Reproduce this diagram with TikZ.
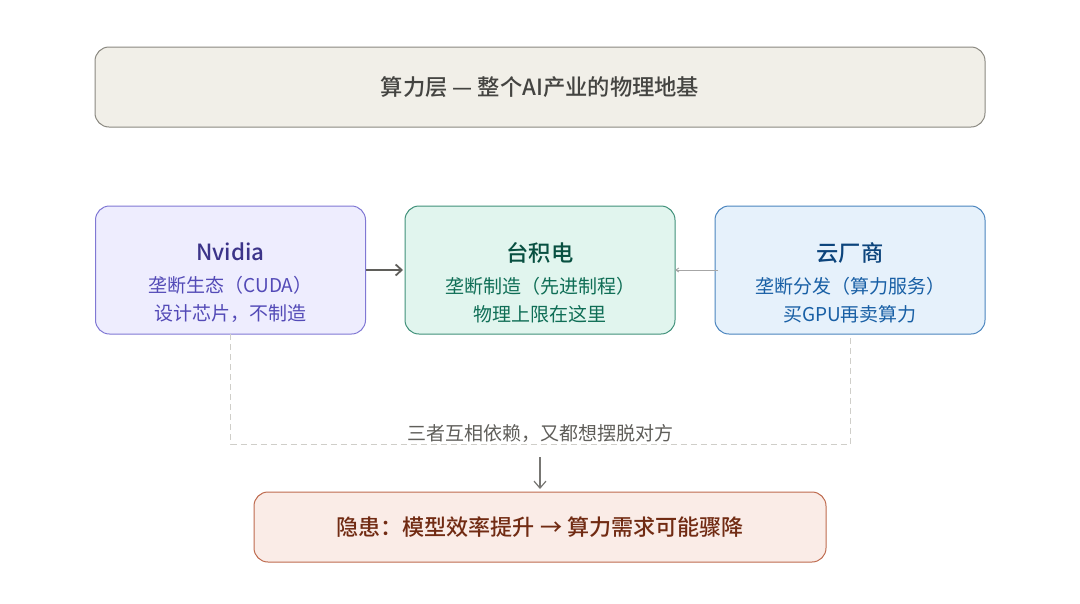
\documentclass[tikz,border=0pt]{standalone}
\usepackage{fontspec}
\usetikzlibrary{arrows.meta}
\setmainfont[BoldFont={Noto Sans CJK SC Medium}]{Noto Sans CJK SC}
\definecolor{grayfill}{HTML}{F1EFE8}
\definecolor{grayline}{HTML}{8A8880}
\definecolor{graytext}{HTML}{444441}
\definecolor{notetext}{HTML}{5F5E5A}
\definecolor{dashgray}{HTML}{CFCEC9}
\definecolor{purplefill}{HTML}{EEEDFE}
\definecolor{purpleline}{HTML}{8078D4}
\definecolor{purplehead}{HTML}{3C3489}
\definecolor{purpletext}{HTML}{534AB7}
\definecolor{tealfill}{HTML}{E1F5EE}
\definecolor{tealline}{HTML}{3F9079}
\definecolor{tealhead}{HTML}{085041}
\definecolor{tealtext}{HTML}{0F6E56}
\definecolor{bluefill}{HTML}{E6F1FB}
\definecolor{blueline}{HTML}{4A84BE}
\definecolor{bluehead}{HTML}{0C447C}
\definecolor{bluetext}{HTML}{185FA5}
\definecolor{coralfill}{HTML}{FAECE7}
\definecolor{coralline}{HTML}{BE6A4E}
\definecolor{coraltext}{HTML}{712B13}
\newcommand{\headsize}{\fontsize{22.3}{28}\selectfont\bfseries}
\newcommand{\risksize}{\fontsize{22.1}{28}\selectfont\bfseries}
\newcommand{\bodysize}{\fontsize{19}{28}\selectfont}
\newcommand{\headrow}{\rule{0pt}{44pt}}
\tikzset{
  roundbox/.style={draw, rounded corners=14pt, line width=1pt, outer sep=0pt, inner sep=0pt, align=center},
  firmbox/.style={roundbox, minimum width=270pt, minimum height=128pt, font=\bodysize},
  bigarrow/.style={-{Straight Barb[length=6pt,width=11pt]}, line width=1.8pt, color=notetext, shorten >=2pt},
  thinarrow/.style={-{Straight Barb[length=3pt,width=4pt]}, line width=1pt, color=black!35},
  downarrow/.style={-{Straight Barb[length=7pt,width=12pt]}, line width=1.2pt, color=notetext!85},
  dashline/.style={dashed, dash pattern=on 6pt off 4pt, line width=0.8pt, color=dashgray}
}
\begin{document}
\begin{tikzpicture}[x=1pt,y=-1pt]
  \useasboundingbox (0,0) rectangle (1080,603);
  \node[roundbox, fill=grayfill, draw=grayline, text=graytext, minimum width=890pt, minimum height=80pt, font=\headsize] (layer) at (540,87) {算力层 — 整个AI产业的物理地基};
  \node[firmbox, fill=purplefill, draw=purpleline, text=purpletext] (nvidia) at (230.5,270)
    {\headrow{\headsize\color{purplehead}Nvidia}\\[4pt]垄断生态（CUDA）\\设计芯片，不制造};
  \node[firmbox, fill=tealfill, draw=tealline, text=tealtext] (tsmc) at (540,270)
    {\headrow{\headsize\color{tealhead}台积电}\\[4pt]垄断制造（先进制程）\\物理上限在这里};
  \node[firmbox, fill=bluefill, draw=blueline, text=bluetext] (cloud) at (850,270)
    {\headrow{\headsize\color{bluehead}云厂商}\\[4pt]垄断分发（算力服务）\\买GPU再卖算力};
  \node[text=notetext, font=\bodysize] (note) at (540,433) {三者互相依赖，又都想摆脱对方};
  \node[roundbox, fill=coralfill, draw=coralline, text=coraltext, minimum width=572pt, minimum height=70pt, font=\risksize] (risk) at (540,527) {隐患：模型效率提升 → 算力需求可能骤降};
  \coordinate (busleft) at (230.5,444);
  \coordinate (busright) at (850,444);
  \coordinate (drop) at (540,457);
  \coordinate (cloudin) at (718,270);
  \draw[bigarrow] (nvidia) -- (tsmc);
  \draw[thinarrow] (cloudin) -- (tsmc);
  \draw[dashline] (nvidia.south) -- (busleft) -- (busright) -- (cloud.south);
  \draw[downarrow] (drop) -- ([yshift=3pt]risk.north);
\end{tikzpicture}
\end{document}
